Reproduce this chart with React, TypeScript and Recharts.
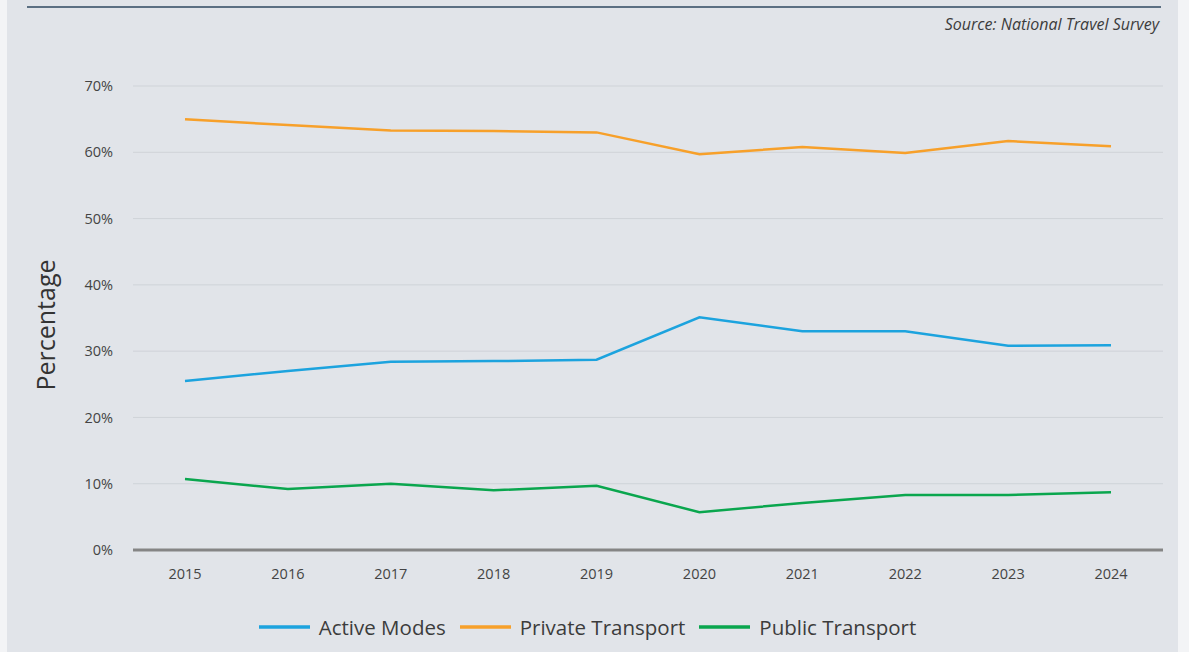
import React from 'react';
import { LineChart, Line, XAxis, YAxis, CartesianGrid, Legend } from 'recharts';

const years = ['2015', '2016', '2017', '2018', '2019', '2020', '2021', '2022', '2023', '2024'];
const activeModes = [25.5, 27.0, 28.4, 28.5, 28.7, 35.1, 33.0, 33.0, 30.8, 30.9];
const privateTransport = [65.0, 64.1, 63.3, 63.2, 63.0, 59.7, 60.8, 59.9, 61.7, 60.9];
const publicTransport = [10.7, 9.2, 10.0, 9.0, 9.7, 5.7, 7.1, 8.3, 8.3, 8.7];
const yTicks = [0, 10, 20, 30, 40, 50, 60, 70];

const data = years.map((year, i) => ({
  year,
  active: activeModes[i],
  private: privateTransport[i],
  public: publicTransport[i],
}));

const FONT = '"Open Sans", Lato, sans-serif';

const LegendContent = (props: any) => {
  const { payload = [] } = props;
  return (
    <div style={{ display: 'flex', justifyContent: 'center', alignItems: 'center', fontFamily: FONT }}>
      {payload.map((item: any) => (
        <div key={item.value} style={{ display: 'flex', alignItems: 'center', marginRight: 14 }}>
          <svg width={51} height={10} style={{ marginRight: 9 }}>
            <line x1={0} y1={5} x2={51} y2={5} stroke={item.color} strokeWidth={3.5} />
          </svg>
          <span style={{ fontSize: 20.5, color: '#3c3c3c' }}>{item.value}</span>
        </div>
      ))}
    </div>
  );
};

// y-axis title, nudged a little below the plot centre like the original
const YTitle = (props: any) => {
  const { viewBox } = props;
  const cx = 45;
  const cy = viewBox.y + viewBox.height / 2 + 7;
  return (
    <text
      x={cx}
      y={cy}
      transform={`rotate(-90 ${cx} ${cy})`}
      textAnchor="middle"
      dominantBaseline="central"
      fill="#333"
      fontSize={25}
      fontFamily={FONT}
    >
      Percentage
    </text>
  );
};

export default function App() {
  return (
    <div style={{ position: 'absolute', left: 0, top: 0, width: 1189, height: 652, background: '#f3f4f6', overflow: 'hidden' }}>
      {/* panel */}
      <div style={{ position: 'absolute', left: 7, top: 0, width: 1171, height: 652, background: '#e1e4e9' }} />
      {/* top rule */}
      <div style={{ position: 'absolute', left: 27, top: 6, width: 1134, height: 2, background: '#5b6f82' }} />
      <div
        style={{
          position: 'absolute',
          right: 30,
          top: 13,
          fontFamily: FONT,
          fontStyle: 'italic',
          fontSize: 16,
          color: '#3c3c3c',
        }}
      >
        Source: National Travel Survey
      </div>
      <div style={{ position: 'absolute', left: 0, top: 0 }}>
        <LineChart width={1189} height={652} data={data} margin={{ top: 86, right: 26, bottom: 72, left: 63 }}>
          <CartesianGrid vertical={false} stroke="#cfd3d8" strokeWidth={1} />
          <XAxis
            dataKey="year"
            padding={{ left: 52, right: 52 }}
            axisLine={{ stroke: '#858585', strokeWidth: 3 }}
            tickLine={false}
            tickSize={0}
            tickMargin={19}
            height={30}
            tick={{ fill: '#444', fontSize: 14.5, fontFamily: FONT }}
          />
          <YAxis
            domain={[0, 70]}
            ticks={yTicks}
            tickFormatter={(v: number) => `${v}%`}
            axisLine={false}
            tickLine={false}
            tickSize={0}
            tickMargin={20}
            width={70}
            tick={{ fill: '#444', fontSize: 14.5, fontFamily: FONT }}
            label={<YTitle />}
          />
          <Legend
            verticalAlign="middle"
            align="center"
            content={<LegendContent />}
            wrapperStyle={{ top: 613, left: 0, width: 1189 }}
          />
          <Line type="linear" dataKey="active" name="Active Modes" stroke="#1ca3de" strokeWidth={2.5} dot={false} isAnimationActive={false} />
          <Line type="linear" dataKey="private" name="Private Transport" stroke="#f7a02a" strokeWidth={2.5} dot={false} isAnimationActive={false} />
          <Line type="linear" dataKey="public" name="Public Transport" stroke="#0aa64e" strokeWidth={2.5} dot={false} isAnimationActive={false} />
        </LineChart>
      </div>
    </div>
  );
}
